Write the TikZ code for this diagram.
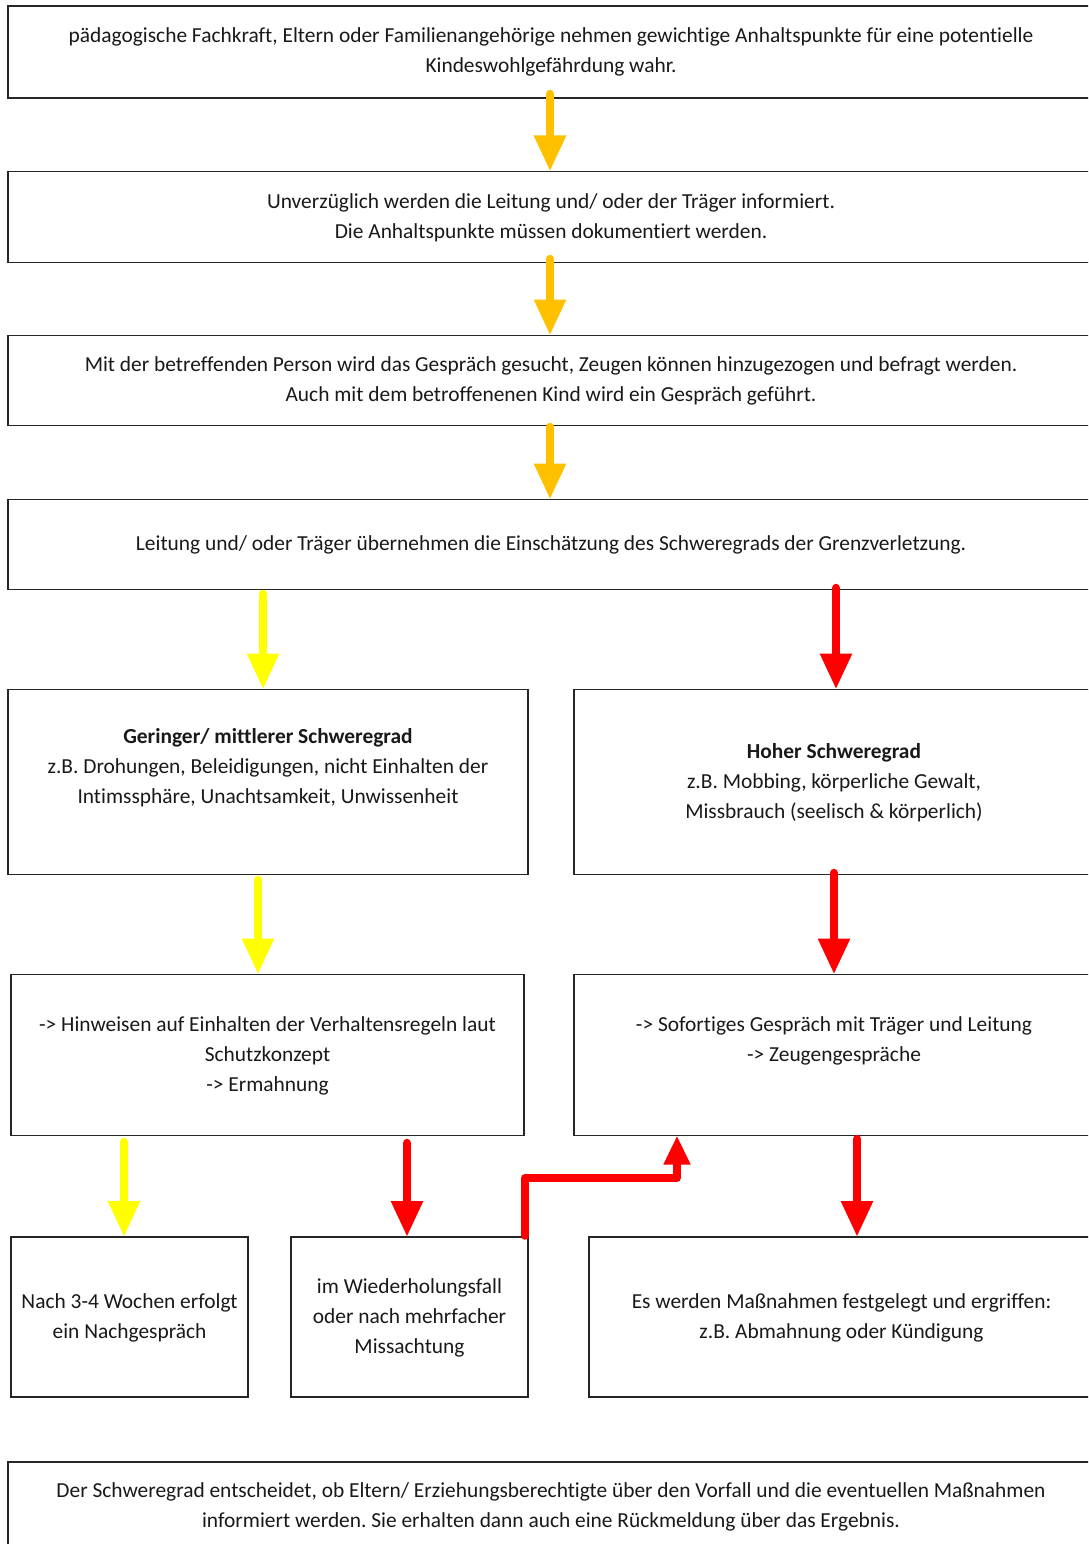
\documentclass[tikz,border=0pt]{standalone}
\usepackage{fontspec}
\setmainfont[Ligatures={NoCommon}]{Carlito}
\usetikzlibrary{arrows.meta}
\definecolor{aorange}{HTML}{FFC000}
\definecolor{ayellow}{HTML}{FFFF00}
\definecolor{ared}{HTML}{FF0000}
\frenchspacing
\tikzset{
  box/.style={draw=black!85, line width=1.4pt, rectangle, inner sep=0pt, outer sep=0pt,
    align=center, font=\fontsize{21.4}{30}\selectfont\frenchspacing, text=black!90},
  blockarrow/.style={line width=8.5pt, line cap=round, line join=round,
    -{Triangle[width=30pt,length=36pt]}},
  smallarrow/.style={line width=7.5pt, line cap=round, line join=round,
    -{Triangle[width=25pt,length=29pt]}},
  oarrow/.style={blockarrow, draw=aorange},
  yarrow/.style={blockarrow, draw=ayellow},
  rarrow/.style={blockarrow, draw=ared},
}
\begin{document}
\begin{tikzpicture}[x=1pt,y=-1pt]
\useasboundingbox (0,0) rectangle (1088,1544);
\clip (0,0) rectangle (1088,1544);
\fill[white] (0,0) rectangle (1088,1544);

\node[box, minimum width=1086pt, minimum height=92pt] (b1) at (551,52)
  {\strut pädagogische Fachkraft, Eltern oder Familienangehörige nehmen gewichtige Anhaltspunkte für eine potentielle\\\strut Kindeswohlgefährdung wahr.};
\node[box, minimum width=1086pt, minimum height=91pt] (b2) at (551,217)
  {\strut Unverzüglich werden die Leitung und/ oder der Träger informiert.\\\strut Die Anhaltspunkte müssen dokumentiert werden.};
\node[box, minimum width=1086pt, minimum height=90pt] (b3) at (551,380.5)
  {\strut Mit der betreffenden Person wird das Gespräch gesucht, Zeugen können hinzugezogen und befragt werden.\\\strut Auch mit dem betroffenenen Kind wird ein Gespräch geführt.};
\node[box, minimum width=1086pt, minimum height=90pt] (b4) at (551,544.5)
  {\strut Leitung und/ oder Träger übernehmen die Einschätzung des Schweregrads der Grenzverletzung.};

\node[box, minimum width=520pt, minimum height=185pt] (b5l) at (268,782)
  {\strut\textbf{Geringer/ mittlerer Schweregrad}\\\strut z.B. Drohungen, Beleidigungen, nicht Einhalten der\\\strut Intimssphäre, Unachtsamkeit, Unwissenheit\\\strut};
\node[box, minimum width=520pt, minimum height=185pt] (b5r) at (834,782)
  {\strut\textbf{Hoher Schweregrad}\\\strut z.B. Mobbing, körperliche Gewalt,\\\strut Missbrauch (seelisch \& körperlich)};

\node[box, minimum width=513pt, minimum height=161pt] (b6l) at (267.5,1055)
  {\strut -> Hinweisen auf Einhalten der Verhaltensregeln laut\\\strut Schutzkonzept\\\strut -> Ermahnung};
\node[box, minimum width=520pt, minimum height=161pt] (b6r) at (834,1055)
  {\strut -> Sofortiges Gespräch mit Träger und Leitung\\\strut -> Zeugengespräche\\\strut};

\node[box, minimum width=237pt, minimum height=160pt] (b7a) at (129.5,1317)
  {\strut Nach 3-4 Wochen erfolgt\\\strut ein Nachgespräch};
\node[box, minimum width=237pt, minimum height=160pt] (b7b) at (409.5,1317)
  {\strut im Wiederholungsfall\\\strut oder nach mehrfacher\\\strut Missachtung};
\node[box, minimum width=505pt, minimum height=160pt] (b7c) at (841.5,1317)
  {\strut Es werden Maßnahmen festgelegt und ergriffen:\\\strut z.B. Abmahnung oder Kündigung};

\node[box, minimum width=1086pt, minimum height=88pt] (b8) at (551,1506)
  {\strut Der Schweregrad entscheidet, ob Eltern/ Erziehungsberechtigte über den Vorfall und die eventuellen Maßnahmen\\\strut informiert werden. Sie erhalten dann auch eine Rückmeldung über das Ergebnis.};

% arrow start points
\coordinate (o1) at (550,94);
\coordinate (o2) at (550,259);
\coordinate (o3) at (550,427);
\coordinate (y1) at (263,594);
\coordinate (r1) at (836,588);
\coordinate (y2) at (258,880);
\coordinate (r2) at (834,873);
\coordinate (y3) at (124,1142);
\coordinate (r3) at (407,1143);
\coordinate (r4) at (857,1139);
\coordinate (e1) at (525,1236);
\coordinate (e2) at (677,1178);

\draw[oarrow] (o1) -- (o1 |- b2.north);
\draw[oarrow] (o2) -- (o2 |- b3.north);
\draw[oarrow] (o3) -- (o3 |- b4.north);
\draw[yarrow] (y1) -- (y1 |- b5l.north);
\draw[rarrow] (r1) -- (r1 |- b5r.north);
\draw[yarrow] (y2) -- (y2 |- b6l.north);
\draw[rarrow] (r2) -- (r2 |- b6r.north);
\draw[yarrow] (y3) -- (y3 |- b7a.north);
\draw[rarrow] (r3) -- (r3 |- b7b.north);
\draw[rarrow] (r4) -- (r4 |- b7c.north);
\draw[smallarrow, draw=ared] (e1) |- (e2) -- (e2 |- b6r.south);
\end{tikzpicture}
\end{document}
